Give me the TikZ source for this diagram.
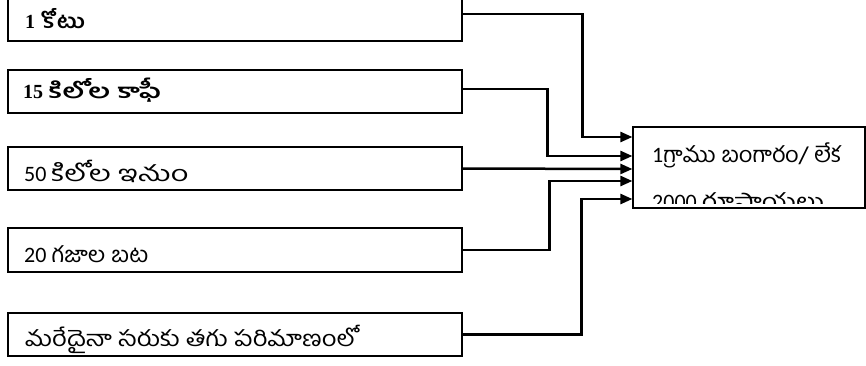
\documentclass[tikz,border=0pt]{standalone}
\usepackage{fontspec}
\usepackage{graphicx}
\usetikzlibrary{arrows.meta}
\newfontfamily\tel[Script=Telugu]{Hind Guntur}
\newfontfamily\serifnum{Liberation Serif}
\newfontfamily\sansnum{Carlito}
\newcommand{\telw}[2]{\resizebox{#1}{\height}{\tel #2}}
\begin{document}
\begin{tikzpicture}[x=1pt,y=-1pt,
  box/.style={draw=black,line width=1.2pt,rectangle,inner sep=0pt,minimum width=454pt},
  lbl/.style={anchor=base west,inner sep=0pt,font=\fontsize{22}{26}\selectfont},
  blbl/.style={anchor=base west,inner sep=0pt,font=\fontsize{20}{24}\selectfont\bfseries},
  conn/.style={draw=black,line width=2.5pt,-{Triangle[length=12pt,width=10pt]}}]
\useasboundingbox (0,0) rectangle (866,365);
% left boxes
\node[box,minimum height=46pt] (b1) at (235,18) {};
\node[box,minimum height=43pt] (b2) at (235,91.5) {};
\node[box,minimum height=43pt] (b3) at (235,168.5) {};
\node[box,minimum height=44pt] (b4) at (235,250) {};
\node[box,minimum height=43pt] (b5) at (235,334.5) {};
% right box
\node[box,minimum width=232pt,minimum height=81pt] (R) at (749,167.5) {};
% labels
\node[blbl] (t1) at (25,28) {\serifnum 1\hspace{6pt}\telw{44pt}{కోటు}};
\node[blbl] (t2) at (23,98) {\serifnum 15\hspace{6pt}\telw{112pt}{కిలోల కాఫీ}};
\node[lbl] (t3) at (24,181) {\sansnum 50\hspace{5pt}\telw{137pt}{కిలోల ఇనుం}};
\node[lbl] (t4) at (24,262) {\sansnum 20\hspace{5pt}\telw{97pt}{గజాల బట}};
\node[lbl] (t5) at (25,346) {\telw{332pt}{మరేదైనా సరుకు తగు పరిమాణంలో}};
\begin{scope}
\clip (R.north west) rectangle ([yshift=5pt]R.south east);
\node[lbl] (r1) at (652,162) {\sansnum 1\telw{178pt}{గ్రాము బంగారం/ లేక}};
\node[lbl] (r2) at (652,209) {\sansnum 2000\hspace{5pt}\telw{122pt}{రూపాయలు}};
\end{scope}
% connectors
\draw[conn] ([yshift=4pt]b1.east) -- ++(120,0) |- ([yshift=30.5pt]R.west);
\draw[conn] ([yshift=2.5pt]b2.east) -- ++(85,0) |- ([yshift=11.5pt]R.west);
\draw[conn] (b3.east) -- ([yshift=-1.5pt]R.west);
\draw[conn] (b4.east) -- ++(87,0) |- ([yshift=-13.5pt]R.west);
\draw[conn] (b5.east) -- ++(119,0) |- ([yshift=-31.5pt]R.west);
\end{tikzpicture}
\end{document}
